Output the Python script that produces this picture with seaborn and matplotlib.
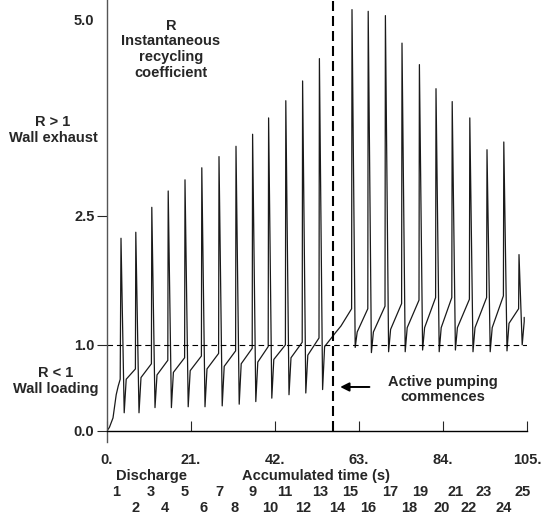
import numpy as np
import pandas as pd
import matplotlib
matplotlib.use("Agg")
import matplotlib.pyplot as plt
import seaborn as sns
from matplotlib.transforms import ScaledTranslation, blended_transform_factory

# ---------------- data ----------------
# initial rise of discharge 1 (time s, R)
rise_t = [0.0, 0.6, 1.5, 2.3, 2.8, 3.3]
rise_R = [0.0, 0.04, 0.15, 0.42, 0.52, 0.60]

discharges = list(range(1, 26))
# time of the end-of-discharge spike (s)
spike_t = [3.5, 7.2, 11.2, 15.3, 19.5, 23.7, 28.0, 32.25, 36.4, 40.4,
           44.7, 48.9, 53.1, 57.2, 61.25, 65.3, 69.6, 73.75, 78.1, 82.25,
           86.3, 90.7, 95.0, 99.2, 103.0]
# peak value of the spike (discharge 14 shows no spike)
spike_peak = [2.24, 2.31, 2.60, 2.79, 2.92, 3.06, 3.19, 3.31, 3.45, 3.64,
              3.84, 4.07, 4.33, np.nan, 4.90, 4.88, 4.83, 4.51, 4.26, 3.98,
              3.83, 3.64, 3.27, 3.36, 2.05]
# minimum right after the spike
dip_R = [0.21, 0.21, 0.27, 0.27, 0.28, 0.28, 0.29, 0.31, 0.34, 0.38,
         0.42, 0.44, 0.48, np.nan, 0.97, 0.91, 0.92, 0.92, 0.94, 0.92,
         0.94, 0.92, 0.92, 0.93, 1.00]
# level after recovery and level just before the next spike
plateau_start = [0.60, 0.62, 0.65, 0.68, 0.70, 0.72, 0.75, 0.78, 0.80, 0.83,
                 0.85, 0.88, 0.98, 1.22, 1.15, 1.15, 1.18, 1.20, 1.20, 1.20,
                 1.20, 1.20, 1.20, 1.25, 1.27]
plateau_end = [0.72, 0.78, 0.82, 0.85, 0.87, 0.90, 0.93, 0.96, 0.98, 1.00,
               1.03, 1.08, 1.14, 1.42, 1.42, 1.45, 1.48, 1.52, 1.55, 1.55,
               1.53, 1.55, 1.57, 1.42, 1.32]
end_time = 104.3
pumping_t = 56.5

# discharge number label positions (s) – layout
label_t = [2.2, 7.05, 11.0, 14.5, 19.4, 24.2, 28.2, 32.0, 36.5, 40.8,
           44.5, 49.0, 53.3, 57.5, 60.75, 65.2, 70.9, 75.6, 78.2, 83.7,
           87.2, 90.3, 94.25, 99.1, 103.9]

xticks = [0, 21, 42, 63, 84, 105]
xtick_labels = ["0.", "21.", "42.", "63.", "84.", "105."]
yticks = [0.0, 1.0, 2.5, 5.0]
ytick_labels = ["0.0", "1.0", "2.5", "5.0"]

# ---------------- build the trace ----------------
T, R = list(rise_t), list(rise_R)
for i in range(len(discharges)):
    ts = spike_t[i]
    if not np.isnan(spike_peak[i]):
        T += [ts, ts + 0.8]
        R += [spike_peak[i], dip_R[i]]
    T.append(ts + 1.3)
    R.append(plateau_start[i])
    t_end = spike_t[i + 1] - 0.1 if i < len(discharges) - 1 else end_time
    T.append(t_end)
    R.append(plateau_end[i])
df = pd.DataFrame({"t": T, "R": R})

# ---------------- figure ----------------
sns.set_theme(style="ticks")
plt.rcParams["font.family"] = ["Liberation Sans", "DejaVu Sans"]
plt.rcParams["font.weight"] = "bold"
FS = 10.5

fig = plt.figure(figsize=(5.5, 5.16), dpi=100)
ax = fig.add_axes([107 / 550, (516 - 442) / 516, 420 / 550, 442 / 516])

sns.lineplot(data=df, x="t", y="R", sort=False, estimator=None,
             color="#1a1a1a", lw=0.9, ax=ax)

ax.axhline(1.0, color="black", lw=0.8, ls=(0, (5, 3.5)))
ax.vlines(pumping_t, 0, 5.05, color="black", lw=1.5, ls=(0, (4.8, 2.4)))

ax.set_xlim(0, 105)
ax.set_ylim(-0.13, 431 / 86)
ax.set_xlabel("")
ax.set_ylabel("")

for s in ["top", "right"]:
    ax.spines[s].set_visible(False)
ax.spines["bottom"].set_position(("data", 0))
ax.spines["left"].set_color("#555555")
ax.spines["bottom"].set_color("black")
ax.spines["left"].set_linewidth(1.0)
ax.spines["bottom"].set_linewidth(1.0)

ax.set_xticks(xticks)
ax.set_xticklabels(xtick_labels, fontsize=FS, fontweight="bold")
ax.tick_params(axis="x", direction="in", length=7, width=0.8, pad=16)
ax.set_yticks(yticks)
ax.set_yticklabels(ytick_labels, fontsize=FS, fontweight="bold")
ax.tick_params(axis="y", direction="out", length=7, width=0.8, pad=2)
ytk = ax.yaxis.get_major_ticks()
ytk[3].tick1line.set_visible(False)
lab5 = ytk[3].label1
lab5.set_transform(lab5.get_transform() + ScaledTranslation(0, -19 / 100, fig.dpi_scale_trans))

# annotations inside the plot
ax.text(16, 4.44, "R\nInstantaneous\nrecycling\ncoefficient", ha="center", va="center",
        fontsize=FS, fontweight="bold", linespacing=1.15)
ax.text(84, 0.48, "Active pumping\ncommences", ha="center", va="center",
        fontsize=FS, fontweight="bold", linespacing=1.1)
ax.annotate("", xy=(57.6, 0.51), xytext=(66.3, 0.51),
            arrowprops=dict(arrowstyle="-|>", color="black", lw=1.4, mutation_scale=13))

# margin labels
fig.text(53 / 550, 1 - 130 / 516, "R > 1\nWall exhaust", ha="center", va="center",
         fontsize=FS, fontweight="bold", linespacing=1.1)
fig.text(56 / 550, 1 - 381 / 516, "R < 1\nWall loading", ha="center", va="center",
         fontsize=FS, fontweight="bold", linespacing=1.1)
fig.text(116 / 550, 1 - 476 / 516, "Discharge", ha="left", va="center",
         fontsize=FS, fontweight="bold")
fig.text(316 / 550, 1 - 476 / 516, "Accumulated time (s)", ha="center", va="center",
         fontsize=FS, fontweight="bold")

trans = blended_transform_factory(ax.transData, fig.transFigure)
for n, lt in zip(discharges, label_t):
    ypix = 492 if n % 2 == 1 else 508
    ax.text(lt, 1 - ypix / 516, str(n), transform=trans, ha="center", va="center",
            fontsize=FS, fontweight="bold", clip_on=False)

fig.savefig("out.png", dpi=100)
